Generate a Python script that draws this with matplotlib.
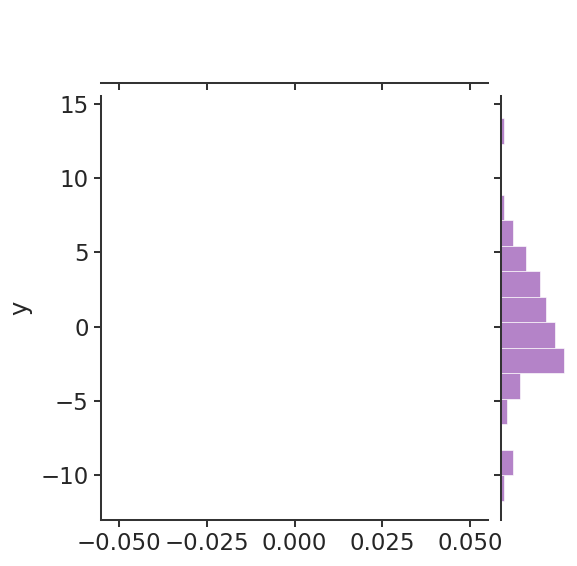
import matplotlib
matplotlib.use("Agg")
import matplotlib.pyplot as plt
import numpy as np

y_bin_edges = [-11.72, -10.00, -8.29, -6.57, -4.85, -3.14, -1.42, 0.30,
               2.02, 3.73, 5.45, 7.17, 8.88, 10.60, 12.32, 14.04]
y_counts = [1, 4, 0, 2, 6.5, 21, 18, 15, 13, 8.5, 4, 1, 0, 0, 1]

x_ticks = [-0.050, -0.025, 0.000, 0.025, 0.050]
x_tick_labels = ["\u22120.050", "\u22120.025", "0.000", "0.025", "0.050"]
y_ticks = [-10, -5, 0, 5, 10, 15]

dark = "#262626"
line = "#333333"
plt.rcParams.update({
    "font.family": "DejaVu Sans",
    "axes.edgecolor": line,
    "axes.linewidth": 1.45,
    "xtick.color": line,
    "ytick.color": line,
    "xtick.labelcolor": dark,
    "ytick.labelcolor": dark,
    "xtick.major.size": 5.3,
    "ytick.major.size": 5.3,
    "xtick.major.width": 1.45,
    "ytick.major.width": 1.45,
    "xtick.labelsize": 16.5,
    "ytick.labelsize": 16.5,
    "axes.labelsize": 17.5,
    "axes.labelcolor": dark,
})

W, H = 577, 566
fig = plt.figure(figsize=(W / 100, H / 100), dpi=100)


def px_axes(x0, y0, x1, y1):
    return fig.add_axes([x0 / W, 1 - y1 / H, (x1 - x0) / W, (y1 - y0) / H])


ax_joint = px_axes(101, 96, 488, 520)
ax_marg_x = px_axes(101, 17, 488, 83)
ax_marg_y = px_axes(500.5, 96, 567.5, 520)

# joint axes stays empty (no x data)
ax_joint.set_xlim(-0.055, 0.055)
ax_joint.set_ylim(-13.0, 15.52)
ax_joint.set_xticks(x_ticks)
ax_joint.set_xticklabels(x_tick_labels)
ax_joint.set_yticks(y_ticks)
ax_joint.set_yticklabels([str(t).replace("-", "\u2212") for t in y_ticks])
ax_joint.set_ylabel("y", labelpad=6)
for s in ["top", "right"]:
    ax_joint.spines[s].set_visible(False)

# top marginal: only the bottom spine with ticks, no labels
ax_marg_x.set_xlim(ax_joint.get_xlim())
ax_marg_x.set_xticks(x_ticks)
ax_marg_x.tick_params(labelbottom=False)
ax_marg_x.set_yticks([])
for s in ["top", "right", "left"]:
    ax_marg_x.spines[s].set_visible(False)

# right marginal histogram
edges = np.array(y_bin_edges)
centers = (edges[:-1] + edges[1:]) / 2
heights = np.diff(edges)
ax_marg_y.barh(centers, y_counts, height=heights, color="#9b59b6", alpha=0.75,
               edgecolor=(1, 1, 1, 0.55), linewidth=0.6)
ax_marg_y.set_ylim(ax_joint.get_ylim())
ax_marg_y.set_xlim(0, max(y_counts) * 1.05)
ax_marg_y.set_yticks(y_ticks)
ax_marg_y.tick_params(labelleft=False)
ax_marg_y.set_xticks([])
for s in ["top", "right", "bottom"]:
    ax_marg_y.spines[s].set_visible(False)

fig.savefig("out.png", dpi=100)
